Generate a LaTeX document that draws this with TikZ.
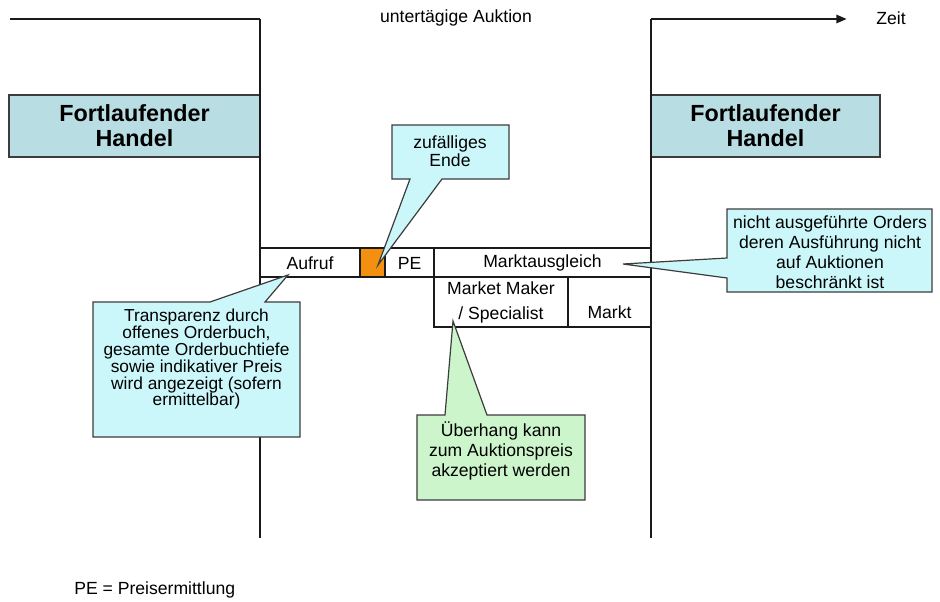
\documentclass[tikz,border=0pt]{standalone}
\usepackage{fontspec}
\setmainfont{Liberation Sans}
\usetikzlibrary{arrows.meta}
\definecolor{titlefill}{HTML}{B8DDE2}
\definecolor{callfill}{HTML}{CCF7FA}
\definecolor{greenfill}{HTML}{CCF5CC}
\definecolor{orangefill}{HTML}{F4900F}
\definecolor{linec}{HTML}{1A1A1A}
\begin{document}
\begin{tikzpicture}[x=0.75pt,y=-0.75pt,
  timeline/.style={draw=linec,line width=2.2pt},
  border/.style={draw=linec,line width=1.1pt},
  cellbox/.style={draw=linec,line width=0.9pt},
  titlebox/.style={draw=linec!85,line width=0.9pt,fill=titlefill},
  callbox/.style={draw=linec!85,line width=0.9pt,fill=callfill,line join=miter},
  greenbox/.style={draw=linec!85,line width=0.9pt,fill=greenfill,line join=miter},
  txt/.style={inner sep=0pt,font=\fontsize{13.2}{15}\selectfont,align=center},
  titletxt/.style={inner sep=0pt,font=\fontsize{17.5}{18.75}\selectfont\bfseries,align=center}]
\useasboundingbox (0,0) rectangle (940,601);

% timeline
\coordinate (tl0) at (10,19);
\coordinate (tl1) at (260,19);
\coordinate (tl2) at (260,538);
\coordinate (tr0) at (651,538);
\coordinate (tr1) at (651,19);
\coordinate (tr2) at (847,19);
\node[txt] (auk) at (456,18) {untertägige Auktion};
\node[txt] (zeit) at (891,18) {Zeit};

% title boxes
\path[titlebox] (9,95) rectangle (260,157);
\path[titlebox] (651,95) rectangle (880,157);
\node[titletxt] (fh1) at (134.5,126) {Fortlaufender\\Handel};
\node[titletxt] (fh2) at (765.5,126) {Fortlaufender\\Handel};

% table
\path[cellbox] (260,248) rectangle (360,277);
\path[cellbox,fill=orangefill] (360,248) rectangle (385,277);
\path[cellbox] (385,248) rectangle (434,277);
\path[cellbox] (434,248) rectangle (651,277);
\path[cellbox] (434,277) rectangle (568,327);
\path[cellbox] (568,277) rectangle (651,327);
\node[txt] (aufruf) at (310,263) {Aufruf};
\node[txt] (pe) at (409.5,263) {PE};
\node[txt] (mausg) at (542.5,263) {Marktausgleich};
\node[txt,font=\fontsize{13.2}{19}\selectfont] (mm) at (501,302.5) {Market Maker\\/ Specialist};
\node[txt] (markt) at (609.5,312) {Markt};

\draw[timeline] (tl0) -- (tl1);
\draw[border] (tl1) -- (tl2);
\draw[border] (tr0) -- (tr1);
\draw[timeline,-{Triangle[length=8pt,width=6pt]}] (tr1) -- (tr2);

% callouts
\path[callbox] (392,125) -- (509,125) -- (509,179) -- (442,179) -- (378,265) -- (410,179) -- (392,179) -- cycle;
\node[txt,font=\fontsize{13.2}{13.5}\selectfont] (zuf) at (450,151) {zufälliges\\Ende};

\path[callbox] (727,209) -- (932,209) -- (932,292) -- (727,292) -- (727,278) -- (623,264) -- (727,258) -- cycle;
\node[txt] (orders) at (830,252.5) {nicht ausgeführte Orders\\deren Ausführung nicht\\auf Auktionen\\beschränkt ist};

\path[callbox] (93,302) -- (210,302) -- (288,275) -- (265,302) -- (300,302) -- (300,437) -- (93,437) -- cycle;
\node[txt,font=\fontsize{13}{12.6}\selectfont] (transp) at (196.5,359.5) {Transparenz durch\\offenes Orderbuch,\\gesamte Orderbuchtiefe\\sowie indikativer Preis\\wird angezeigt (sofern\\ermittelbar)};

\path[greenbox] (417,415) -- (445,415) -- (453,321) -- (487,415) -- (585,415) -- (585,500) -- (417,500) -- cycle;
\node[txt] (ueber) at (501,450.5) {Überhang kann\\zum Auktionspreis\\akzeptiert werden};

\node[txt,anchor=west] (pedef) at (74,590) {PE = Preisermittlung};
\end{tikzpicture}
\end{document}
